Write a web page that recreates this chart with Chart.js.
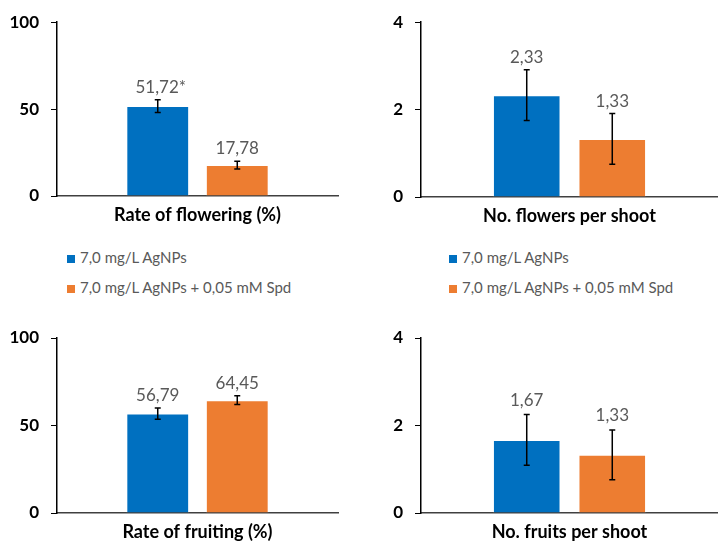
<!DOCTYPE html>
<html>
<head>
<meta charset="utf-8">
<script src="https://cdn.jsdelivr.net/npm/chart.js@4.4.1/dist/chart.umd.min.js"></script>
<style>
  html, body { margin: 0; padding: 0; background: #fff; }
  body { width: 718px; height: 545px; position: relative; overflow: hidden; font-family: Lato, "Open Sans", sans-serif; }
  .panel { position: absolute; }
  .legend { position: absolute; font-size: 15px; color: #595959; }
  .legend div { position: absolute; white-space: nowrap; height: 20px; line-height: 20px; }
  .legend span { display: inline-block; width: 8px; height: 8px; margin-right: 5px; vertical-align: 0px; }
</style>
</head>
<body>
<div class="panel" style="left:0;top:0;width:359px;height:232px"><canvas id="c1"></canvas></div>
<div class="panel" style="left:360px;top:0;width:358px;height:232px"><canvas id="c2"></canvas></div>
<div class="panel" style="left:0;top:300px;width:359px;height:245px"><canvas id="c3"></canvas></div>
<div class="panel" style="left:360px;top:300px;width:358px;height:245px"><canvas id="c4"></canvas></div>
<div class="legend" id="leg1" style="left:67px;top:247px"></div>
<div class="legend" id="leg2" style="left:449px;top:247px"></div>
<script>
// series names and colours
const seriesNames = ['7,0 mg/L AgNPs', '7,0 mg/L AgNPs + 0,05 mM Spd'];
const seriesColors = ['#0070C0', '#ED7D31'];

// one category per panel
const flowerRateLabel = ['Rate of flowering (%)'];
const flowerRate = [51.72, 17.78];
const flowerRateErr = [3.7, 2.2];
const flowerRateText = ['51,72*', '17,78'];

const flowerNoLabel = ['No. flowers per shoot'];
const flowerNo = [2.33, 1.33];
const flowerNoErr = [0.58, 0.58];
const flowerNoText = ['2,33', '1,33'];

const fruitRateLabel = ['Rate of fruiting (%)'];
const fruitRate = [56.79, 64.45];
const fruitRateErr = [3.2, 2.5];
const fruitRateText = ['56,79', '64,45'];

const fruitNoLabel = ['No. fruits per shoot'];
const fruitNo = [1.67, 1.33];
const fruitNoErr = [0.58, 0.57];
const fruitNoText = ['1,67', '1,33'];

const pctTicks = [0, 50, 100];
const cntTicks = [0, 2, 4];

Chart.defaults.font.family = 'Lato, "Open Sans", sans-serif';
Chart.defaults.animation = false;

// error bars + value labels drawn from the dataset values
const errorBarPlugin = {
    id: 'errorBars',
    afterDatasetsDraw(chart, args, opts) {
        const ctx = chart.ctx;
        const y = chart.scales.y;
        chart.data.datasets.forEach((ds, i) => {
            const bar = chart.getDatasetMeta(i).data[0];
            const v = ds.data[0];
            const e = opts.errors[i];
            const top = y.getPixelForValue(v + e);
            const bot = y.getPixelForValue(v - e);
            ctx.save();
            ctx.strokeStyle = '#000';
            ctx.lineWidth = 1.5;
            ctx.beginPath();
            ctx.moveTo(bar.x, top); ctx.lineTo(bar.x, bot);
            ctx.moveTo(bar.x - 3, top); ctx.lineTo(bar.x + 3, top);
            ctx.moveTo(bar.x - 3, bot); ctx.lineTo(bar.x + 3, bot);
            ctx.stroke();
            ctx.fillStyle = '#595959';
            ctx.font = '17px Lato, "Open Sans", sans-serif';
            ctx.textAlign = 'center';
            ctx.textBaseline = 'bottom';
            ctx.fillText(opts.texts[i], bar.x + (opts.texts[i].endsWith('*') ? 3 : 0), top - opts.gap);
            ctx.restore();
        });
    }
};

function makeChart(id, label, values, errors, texts, ticks, yWidth, xHeight, padTop, padRight, catPct, gap) {
    const ctx = document.getElementById(id).getContext('2d');
    return new Chart(ctx, {
        type: 'bar',
        data: {
            labels: label,
            datasets: values.map((v, i) => ({
                label: seriesNames[i],
                data: [v],
                backgroundColor: seriesColors[i],
                borderColor: 'rgba(255,255,255,0.35)',
                borderWidth: 1,
                categoryPercentage: catPct,
                barPercentage: 0.79
            }))
        },
        options: {
            responsive: true,
            maintainAspectRatio: false,
            layout: { padding: { top: padTop, right: padRight, left: 0, bottom: 0 } },
            plugins: {
                legend: { display: false },
                tooltip: { enabled: false },
                errorBars: { errors: errors, texts: texts, gap: gap }
            },
            scales: {
                x: {
                    grid: { display: false, drawTicks: false },
                    border: { color: '#404040', width: 1.5 },
                    ticks: { color: '#000', padding: 8, font: { size: 18, weight: 'bold' } },
                    afterFit: s => { s.height = xHeight; }
                },
                y: {
                    min: ticks[0],
                    max: ticks[ticks.length - 1],
                    afterBuildTicks: s => { s.ticks = ticks.map(t => ({ value: t })); },
                    grid: { drawOnChartArea: false, drawTicks: true, tickLength: 6, color: '#000' },
                    border: { color: '#000', width: 1.5 },
                    ticks: { color: '#000', padding: 12, font: { size: 17, weight: 'bold' } },
                    afterFit: s => { s.width = yWidth; }
                }
            }
        },
        plugins: [errorBarPlugin]
    });
}

makeChart('c1', flowerRateLabel, flowerRate, flowerRateErr, flowerRateText, pctTicks, 57, 36, 22, 21, 0.566, 4);
makeChart('c2', flowerNoLabel, flowerNo, flowerNoErr, flowerNoText, cntTicks, 61, 35, 22, 0, 0.576, 4);
makeChart('c3', fruitRateLabel, fruitRate, fruitRateErr, fruitRateText, pctTicks, 57, 32, 38, 21, 0.566, 4);
makeChart('c4', fruitNoLabel, fruitNo, fruitNoErr, fruitNoText, cntTicks, 61, 32, 38, 0, 0.576, 6);

// legends under the two top panels
['leg1', 'leg2'].forEach(id => {
    const box = document.getElementById(id);
    seriesNames.forEach((n, i) => {
        const row = document.createElement('div');
        row.style.top = (i * 30) + 'px';
        const sq = document.createElement('span');
        sq.style.background = seriesColors[i];
        row.appendChild(sq);
        row.appendChild(document.createTextNode(n));
        box.appendChild(row);
    });
});
</script>
</body>
</html>
